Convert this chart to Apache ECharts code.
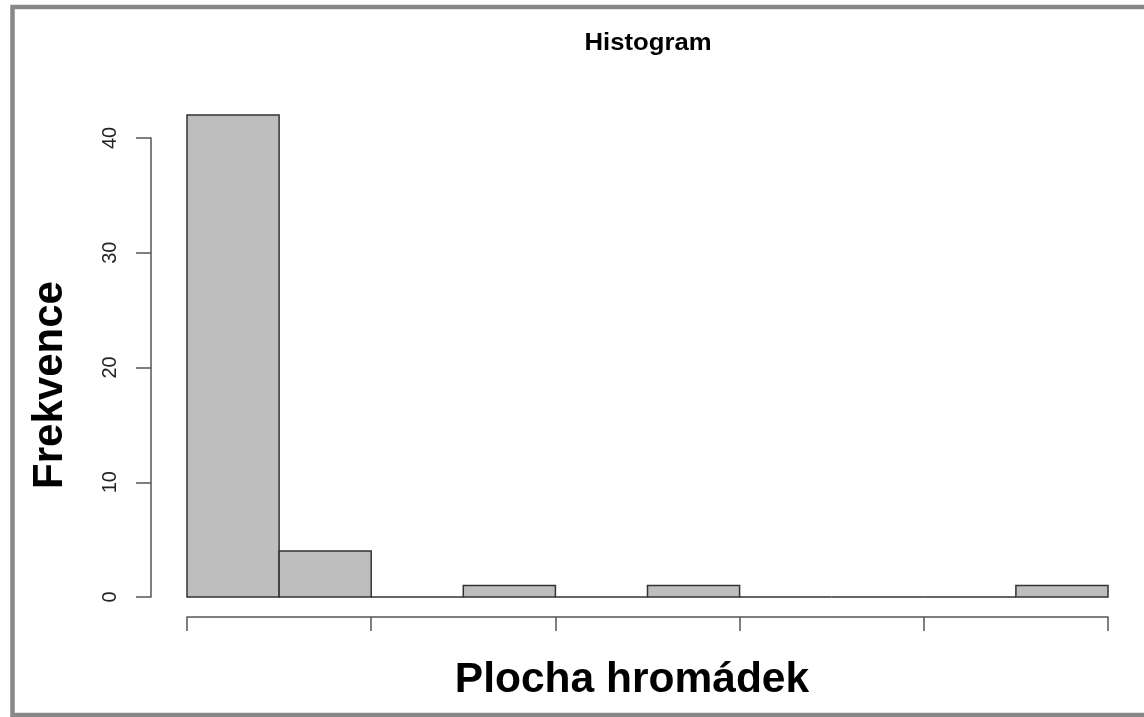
<!DOCTYPE html>
<html>
<head>
<meta charset="utf-8">
<script src="https://cdn.jsdelivr.net/npm/echarts@6/dist/echarts.min.js"></script>
<style>
  html, body { margin: 0; padding: 0; background: #fff; }
  #chart { width: 1144px; height: 717px; }
</style>
</head>
<body>
<div id="chart"></div>
<script>
// Histogram bins (edges as bin positions) and counts per bin
const binEdges = [0, 1, 2, 3, 4, 5, 6, 7, 8, 9, 10];
const counts = [42, 4, 0, 1, 0, 1, 0, 0, 0, 1];
const yTicks = [0, 10, 20, 30, 40];
const titleText = 'Histogram';
const xTitle = 'Plocha hromádek';
const yTitle = 'Frekvence';

const bins = counts.map((c, i) => [binEdges[i], binEdges[i + 1], c]);

const chart = echarts.init(document.getElementById('chart'), null, { renderer: 'canvas' });
const font = '"Liberation Sans", Arial, Helvetica, sans-serif';

chart.setOption({
  backgroundColor: '#ffffff',
  animation: false,
  grid: { left: 187, right: 36, top: 138, bottom: 120, containLabel: false },
  xAxis: {
    type: 'value',
    min: binEdges[0], max: binEdges[binEdges.length - 1], interval: 2,
    offset: 20,
    axisLine: { show: true, onZero: false, lineStyle: { color: '#555', width: 1.5 } },
    axisTick: { show: true, length: 14, lineStyle: { color: '#555', width: 1.5 } },
    axisLabel: { show: false },
    splitLine: { show: false }
  },
  yAxis: {
    type: 'value',
    min: yTicks[0], max: yTicks[yTicks.length - 1], interval: 10,
    offset: 36,
    axisLine: { show: true, onZero: false, lineStyle: { color: '#555', width: 1.5 } },
    axisTick: { show: true, length: 15, lineStyle: { color: '#555', width: 1.5 } },
    axisLabel: {
      rotate: 90, margin: 31,
      fontFamily: font, fontSize: 20, color: '#222',
      formatter: v => yTicks.includes(v) ? String(v) : ''
    },
    splitLine: { show: false }
  },
  graphic: [
    {
      type: 'rect', silent: true,
      shape: { x: 12.5, y: 7, width: 1140, height: 708 },
      style: { fill: 'none', stroke: '#888', lineWidth: 4.5 }
    },
    {
      type: 'text', silent: true,
      x: 648, y: 43, scaleX: 1.07,
      style: {
        text: titleText, fontFamily: font, fontSize: 24, fontWeight: 'bold',
        fill: '#000', align: 'center', verticalAlign: 'middle'
      }
    },
    {
      type: 'text', silent: true,
      x: 50, y: 385, rotation: Math.PI / 2,
      style: {
        text: yTitle, fontFamily: font, fontSize: 42, fontWeight: 'bold',
        fill: '#000', align: 'center', verticalAlign: 'middle'
      }
    },
    {
      type: 'text', silent: true,
      x: 632, y: 680,
      style: {
        text: xTitle, fontFamily: font, fontSize: 42.5, fontWeight: 'bold',
        fill: '#000', align: 'center', verticalAlign: 'middle'
      }
    }
  ],
  series: [{
    type: 'custom',
    clip: false,
    data: bins,
    encode: { x: [0, 1], y: 2 },
    renderItem: function (params, api) {
      const p0 = api.coord([api.value(0), api.value(2)]);
      const p1 = api.coord([api.value(1), 0]);
      return {
        type: 'rect',
        shape: { x: p0[0], y: p0[1], width: p1[0] - p0[0], height: p1[1] - p0[1] },
        style: { fill: '#bebebe', stroke: '#333', lineWidth: 1.5 }
      };
    }
  }]
});
</script>
</body>
</html>
